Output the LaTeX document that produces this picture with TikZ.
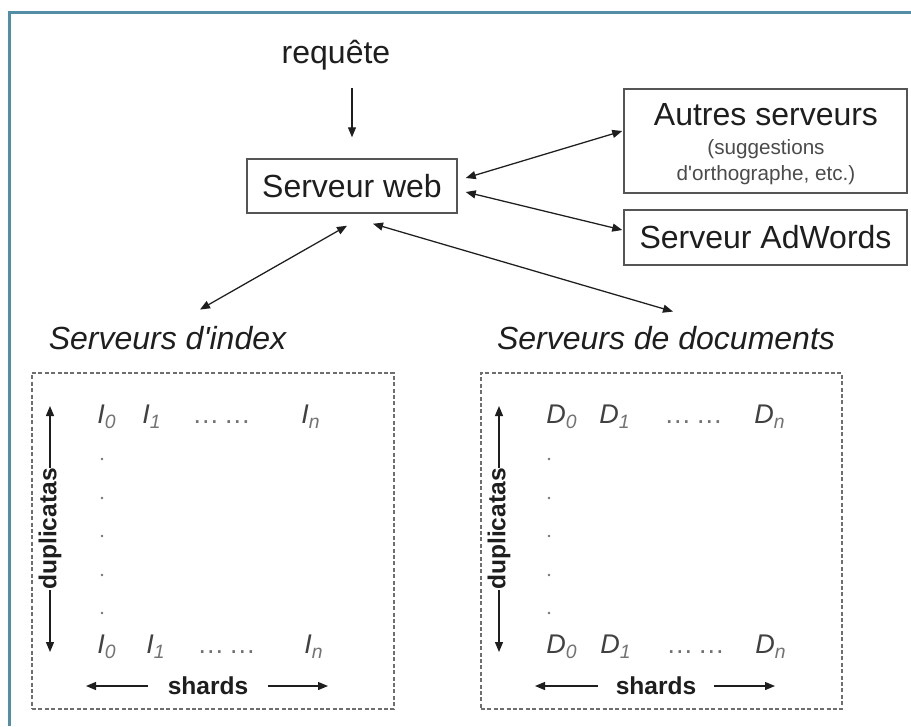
\documentclass[tikz,border=0pt]{standalone}
\usepackage{fontspec}
\setmainfont{Liberation Sans}
\usetikzlibrary{arrows.meta,calc}

\definecolor{frameteal}{RGB}{84,142,166}
\definecolor{boxgray}{RGB}{85,85,85}
\definecolor{inkdark}{RGB}{30,30,30}
\definecolor{celldark}{RGB}{65,65,65}
\definecolor{cellsub}{RGB}{115,115,115}
\definecolor{dashgray}{RGB}{110,110,110}

\newcommand{\bigfont}{\fontsize{24}{28}\selectfont}
\newcommand{\notefont}{\fontsize{15.5}{19}\selectfont}
\newcommand{\cellfont}{\fontsize{20.25}{24}\selectfont}
\newcommand{\axisfont}{\fontsize{18.4}{22}\selectfont\bfseries}
% an italic letter with a lighter, lowered index
\newcommand{\cellname}[2]{\textit{#1\raisebox{-4pt}{\fontsize{14.5}{15}\selectfont\color{cellsub}#2}}}

\begin{document}
\begin{tikzpicture}[x=0.75pt,y=-0.75pt,
  tip/.tip={Triangle[length=7.5pt,width=6pt]},
  arr/.style={-tip, line width=0.95pt, color=inkdark},
  darr/.style={tip-tip, line width=0.95pt, color=inkdark},
  srvbox/.style={draw=boxgray, line width=1.1pt, inner sep=0pt, font=\bigfont, text=inkdark},
  title/.style={inner sep=0pt, font=\bigfont, text=inkdark},
  note/.style={inner sep=0pt, font=\notefont, text=inkdark!80},
  grid/.style={draw=dashgray, line width=0.8pt, dash pattern=on 3pt off 1.8pt},
  cell/.style={inner sep=0pt, anchor=base west, font=\cellfont, text=celldark},
  dotsnode/.style={inner sep=0pt, anchor=base west, font=\cellfont, text=cellsub},
  axis/.style={inner sep=0pt, font=\axisfont, text=inkdark, fill=white},
]
\useasboundingbox (0,0) rectangle (911,726);
\fill[white] (0,0) rectangle (911,726);

% window frame
\draw[frameteal, line width=2.3pt] (9.5,726) -- (9.5,12.5) -- (911,12.5);

% request and front servers
\node[title, anchor=base] (req) at (336,63) {requête};
\node[srvbox, minimum width=157.5pt, minimum height=40.5pt] (web) at (352,186) {Serveur web};
\node[srvbox, minimum width=212.25pt, minimum height=78pt] (autres) at (765.5,141) {};
\node[title, anchor=base] (autrestitle) at (766,125) {Autres serveurs};
\node[note, anchor=base] (autresnoteA) at (766,154) {(suggestions};
\node[note, anchor=base] (autresnoteB) at (766,180) {d\textquotesingle orthographe, etc.)};
\node[srvbox, minimum width=212.25pt, minimum height=41.25pt] (adw) at (765.5,237.5) {Serveur AdWords};

% back-end groups
\node[title, font=\bigfont\itshape, anchor=base] (idxlbl) at (167.5,349) {Serveurs d\textquotesingle index};
\node[title, font=\bigfont\itshape, anchor=base] (doclbl) at (666,349) {Serveurs de documents};
\node[grid, minimum width=271.5pt, minimum height=252pt] (ibox) at (213,541) {};
\node[grid, minimum width=270.75pt, minimum height=252pt] (dbox) at (661.5,541) {};

% connectors
\draw[arr, shorten <=13.5pt, shorten >=15.75pt] (web.north |- req.south) -- (web.north);
\draw[darr] ($(web.east)+(8,-8)$) -- ($(autres.west)+(-1,-10)$);
\draw[darr] ($(web.east)+(8,6)$) -- ($(adw.west)+(-1,-7.5)$);
\draw[darr] ($(web.south)+(-5,12)$) -- ($(idxlbl.north)+(32.5,-16)$);
\draw[darr] ($(web.south)+(21,10)$) -- ($(doclbl.north)+(7,-14)$);

% index servers: shards x duplicates
\node[cell] (itopA) at (97,423) {\cellname{I}{0}};
\node[cell] (itopB) at (142,423) {\cellname{I}{1}};
\node[dotsnode] (itopdots) at (192,423) {…\,…};
\node[cell] (itopN) at (301,423) {\cellname{I}{n}};
\node[cell] (ibotA) at (97,653) {\cellname{I}{0}};
\node[cell] (ibotB) at (146,653) {\cellname{I}{1}};
\node[dotsnode] (ibotdots) at (197,653) {…\,…};
\node[cell] (ibotN) at (304,653) {\cellname{I}{n}};
\foreach \yy in {459,498,536,575,613}
  \fill[cellsub] (102,\yy) circle (1.1pt);
\coordinate (idupTop) at (50,406);
\coordinate (idupBot) at (50,652);
\draw[darr] (idupTop) -- (idupBot);
\node[axis, rotate=90] (idup) at (50,529) {duplicatas};
\coordinate (ishL) at (86,686);
\coordinate (ishR) at (328,686);
\draw[darr] (ishL) -- (ishR);
\node[axis, inner xsep=15pt] (ishards) at (208,686) {shards};

% document servers: shards x duplicates
\node[cell] (dtopA) at (546,423) {\cellname{D}{0}};
\node[cell] (dtopB) at (599,423) {\cellname{D}{1}};
\node[dotsnode] (dtopdots) at (664,423) {…\,…};
\node[cell] (dtopN) at (754,423) {\cellname{D}{n}};
\node[cell] (dbotA) at (546,653) {\cellname{D}{0}};
\node[cell] (dbotB) at (600,653) {\cellname{D}{1}};
\node[dotsnode] (dbotdots) at (666,653) {…\,…};
\node[cell] (dbotN) at (755,653) {\cellname{D}{n}};
\foreach \yy in {459,498,536,575,613}
  \fill[cellsub] (549,\yy) circle (1.1pt);
\coordinate (ddupTop) at (499,406);
\coordinate (ddupBot) at (499,652);
\draw[darr] (ddupTop) -- (ddupBot);
\node[axis, rotate=90] (ddup) at (499,529) {duplicatas};
\coordinate (dshL) at (535,686);
\coordinate (dshR) at (775,686);
\draw[darr] (dshL) -- (dshR);
\node[axis, inner xsep=13.5pt] (dshards) at (656,686) {shards};
\end{tikzpicture}
\end{document}
